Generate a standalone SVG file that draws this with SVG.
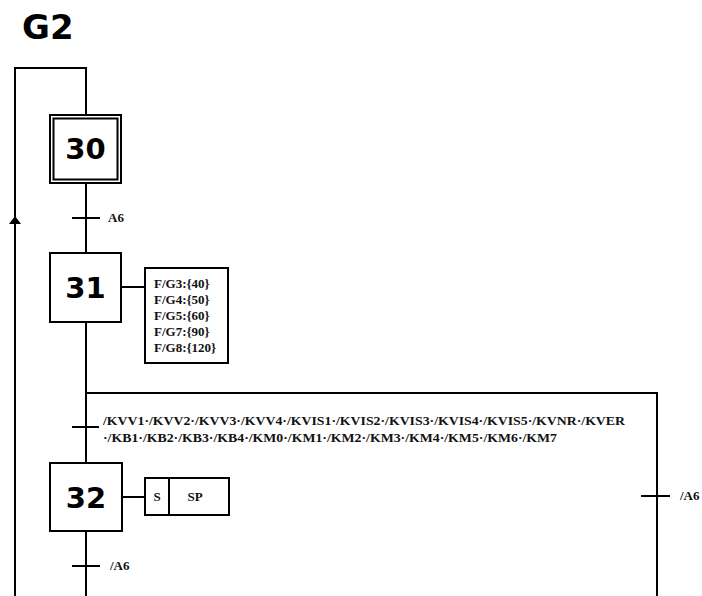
<svg xmlns="http://www.w3.org/2000/svg" width="702" height="596" viewBox="0 0 702 596">
<style>
.ln{stroke:#000;stroke-width:2;fill:none}
.box{stroke:#000;stroke-width:2;fill:#fff}
.num{font-family:"DejaVu Sans",Verdana,sans-serif;font-weight:bold;font-size:29px;fill:#000;text-anchor:middle}
.lbl{font-family:"Liberation Serif","Times New Roman",serif;font-weight:bold;font-size:13px;fill:#111}
.title{font-family:"DejaVu Sans",Verdana,sans-serif;font-weight:bold;font-size:34px;fill:#000}
</style>
<rect width="702" height="596" fill="#fff"/>
<text class="title" x="22" y="39">G2</text>
<g id="connectors">
<polyline class="ln" points="15,596 15,68 86,68 86,115"/>
<polygon points="15,216 9,224 21,224" fill="#000"/>
<line class="ln" x1="86" y1="183" x2="86" y2="253"/>
<line class="ln" x1="72" y1="218" x2="100" y2="218"/>
<line class="ln" x1="122" y1="287" x2="145" y2="287"/>
<line class="ln" x1="86" y1="322" x2="86" y2="463"/>
<polyline class="ln" points="86,393 657,393 657,596"/>
<line class="ln" x1="72" y1="427" x2="99" y2="427"/>
<line class="ln" x1="641" y1="496" x2="670" y2="496"/>
<line class="ln" x1="122" y1="497" x2="145" y2="497"/>
<line class="ln" x1="86" y1="531" x2="86" y2="596"/>
<line class="ln" x1="72" y1="566" x2="100" y2="566"/>
</g>
<g id="t-A6"><text class="lbl" x="108" y="222">A6</text></g>
<g id="t-kvv">
<text class="lbl" x="103" y="425" textLength="522" lengthAdjust="spacingAndGlyphs">/KVV1·/KVV2·/KVV3·/KVV4·/KVIS1·/KVIS2·/KVIS3·/KVIS4·/KVIS5·/KVNR·/KVER</text>
<text class="lbl" x="103" y="442" textLength="454" lengthAdjust="spacingAndGlyphs">·/KB1·/KB2·/KB3·/KB4·/KM0·/KM1·/KM2·/KM3·/KM4·/KM5·/KM6·/KM7</text>
</g>
<g id="t-nA6-right"><text class="lbl" x="680" y="500">/A6</text></g>
<g id="t-nA6"><text class="lbl" x="110" y="570">/A6</text></g>
<g id="step30">
<rect class="box" x="50" y="115" width="71" height="68"/>
<rect class="ln" x="53.5" y="118.5" width="64" height="61" stroke-width="1.5"/>
<text class="num" x="85.5" y="159">30</text>
</g>
<g id="step31">
<rect class="box" x="50" y="253" width="71" height="69"/>
<text class="num" x="85.5" y="298">31</text>
</g>
<g id="action31">
<rect class="box" x="145" y="268" width="83" height="95"/>
<text class="lbl" x="154" y="288">F/G3:{40}</text>
<text class="lbl" x="154" y="304">F/G4:{50}</text>
<text class="lbl" x="154" y="320">F/G5:{60}</text>
<text class="lbl" x="154" y="336">F/G7:{90}</text>
<text class="lbl" x="154" y="352">F/G8:{120}</text>
</g>
<g id="step32">
<rect class="box" x="50" y="463" width="72" height="68"/>
<text class="num" x="86" y="508">32</text>
</g>
<g id="action32">
<rect class="box" x="145" y="478" width="84" height="37"/>
<line class="ln" x1="169" y1="478" x2="169" y2="515"/>
<text class="lbl" x="157" y="501" text-anchor="middle">S</text>
<text class="lbl" x="195" y="501" text-anchor="middle">SP</text>
</g>
</svg>
